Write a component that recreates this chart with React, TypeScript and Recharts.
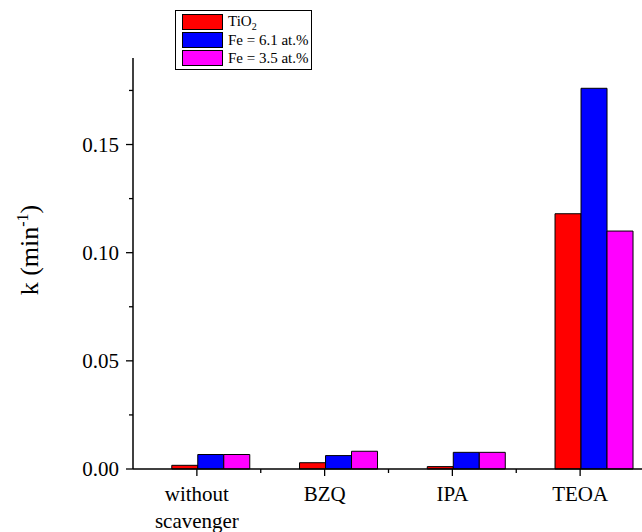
import React from "react";
import { BarChart, Bar, XAxis, YAxis } from "recharts";

const categories = ["without scavenger", "BZQ", "IPA", "TEOA"];
const tio2 = [0.0017, 0.0029, 0.0011, 0.118];
const fe61 = [0.0067, 0.0062, 0.0077, 0.176];
const fe35 = [0.0067, 0.0082, 0.0077, 0.11];
const yTicks = [0, 0.025, 0.05, 0.075, 0.1, 0.125, 0.15, 0.175];

const series = [
  { key: "tio2", name: "TiO2", color: "#ff0000" },
  { key: "fe61", name: "Fe = 6.1 at.%", color: "#0000ff" },
  { key: "fe35", name: "Fe = 3.5 at.%", color: "#ff00ff" },
];

const data = categories.map((c, i) => ({
  cat: c,
  tio2: tio2[i],
  fe61: fe61[i],
  fe35: fe35[i],
}));

const W = 644;
const H = 532;
const AXIS_W = 133;
const band = (W - AXIS_W) / categories.length;
const font = "Liberation Serif, serif";
const txt = { fontFamily: font };

const YTick = (props: any) => {
  const { x, y, payload } = props;
  const major = Math.round(payload.value * 1000) % 50 === 0;
  return (
    <g>
      <line x1={x} x2={x - (major ? 7 : 4)} y1={y} y2={y} stroke="#000" strokeWidth={1.3} />
      {major && (
        <text x={x - 14} y={y + 7} textAnchor="end" style={txt} fontSize={21} fill="#000">
          {payload.value.toFixed(2)}
        </text>
      )}
    </g>
  );
};

const XTick = (props: any) => {
  const { x, y, payload } = props;
  const words = payload.value === "without scavenger" ? ["without", "scavenger"] : [payload.value];
  return (
    <g>
      <line x1={x} x2={x} y1={y} y2={y + 7} stroke="#000" strokeWidth={1.3} />
      <line x1={x + band / 2} x2={x + band / 2} y1={y} y2={y + 4} stroke="#000" strokeWidth={1.3} />
      {words.map((w, i) => (
        <text key={w} x={x} y={y + 32 + i * 27} textAnchor="middle" style={txt} fontSize={21} fill="#000">
          {w}
        </text>
      ))}
    </g>
  );
};

const LegendBox = () => (
  <div
    style={{
      position: "absolute",
      left: 175,
      top: 10,
      width: 137,
      boxSizing: "border-box",
      border: "1px solid #000",
      padding: "2px 0 2px 6px",
      fontFamily: font,
      fontSize: 15,
      background: "#fff",
    }}
  >
    {series.map((s) => (
      <div key={s.key} style={{ display: "flex", alignItems: "center", height: 18 }}>
        <span
          style={{
            display: "inline-block",
            width: 41,
            height: 16,
            background: s.color,
            border: "1px solid #000",
            marginRight: 5,
            boxSizing: "border-box",
          }}
        />
        {s.key === "tio2" ? (
          <span>
            TiO<sub style={{ fontSize: 10 }}>2</sub>
          </span>
        ) : (
          <span>{s.name}</span>
        )}
      </div>
    ))}
  </div>
);

export default function App() {
  return (
    <div
      style={{
        position: "absolute",
        left: 0,
        top: 0,
        width: 642,
        height: 532,
        overflow: "hidden",
        background: "#fff",
        fontFamily: font,
      }}
    >
      <BarChart
        width={W}
        height={H}
        data={data}
        margin={{ top: 58, right: 0, bottom: 0, left: 0 }}
        barCategoryGap="10%"
        barGap={0}
      >
        <XAxis
          dataKey="cat"
          tick={<XTick />}
          tickLine={false}
          tickSize={0}
          tickMargin={0}
          height={63}
          interval={0}
          axisLine={{ stroke: "#000", strokeWidth: 1.5 }}
        />
        <YAxis
          domain={[0, 0.19]}
          ticks={yTicks}
          tick={<YTick />}
          tickLine={false}
          tickSize={0}
          tickMargin={0}
          width={AXIS_W}
          interval={0}
          axisLine={{ stroke: "#000", strokeWidth: 1.5 }}
          label={{
            content: () => (
              <text
                transform="translate(38, 250) rotate(-90)"
                textAnchor="middle"
                style={txt}
                fontSize={26}
                fill="#000"
              >
                k (min
                <tspan dy={-10} fontSize={16}>-1</tspan>
                <tspan dy={10}>)</tspan>
              </text>
            ),
          }}
        />
        <Bar dataKey="pad" fill="none" isAnimationActive={false} />
        {series.map((s) => (
          <Bar
            key={s.key}
            dataKey={s.key}
            name={s.name}
            fill={s.color}
            stroke="#000"
            strokeWidth={1}
            isAnimationActive={false}
          />
        ))}
      </BarChart>
      <LegendBox />
    </div>
  );
}
